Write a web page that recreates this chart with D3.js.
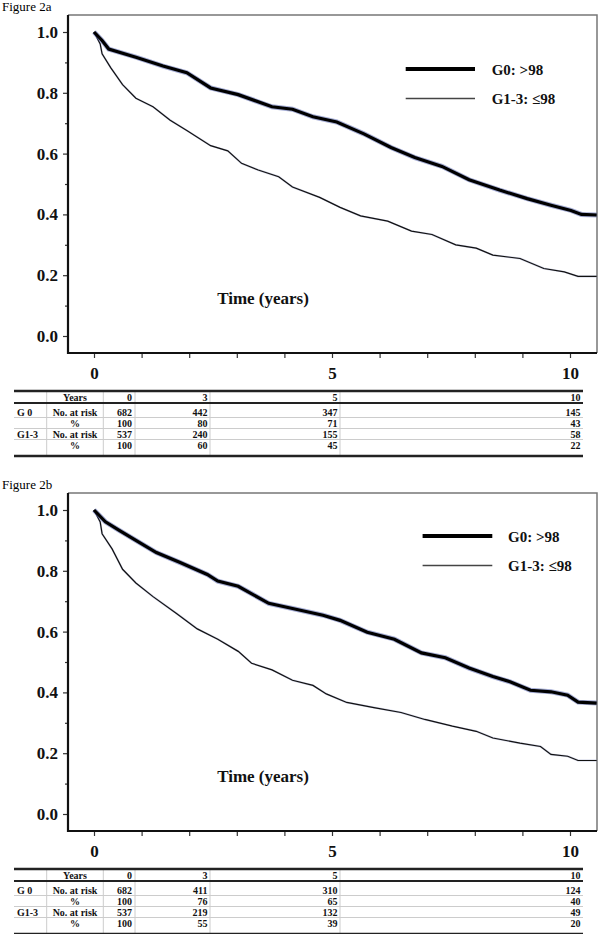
<!DOCTYPE html>
<html><head><meta charset="utf-8">
<script src="https://cdn.jsdelivr.net/npm/d3@7"></script>
<style>body{margin:0;background:#fff}svg{display:block}</style>
</head><body>
<svg id="c" width="600" height="934"></svg>
<script>
// ---------- data ----------
const seriesNames = ["G0: >98", "G1-3: \u226498"];
const yTicks = [0, 0.2, 0.4, 0.6, 0.8, 1.0];
const yMinorTicks = [0.1, 0.3, 0.5, 0.7, 0.9];
const xTicks = [0, 5, 10];
const xMinorTicks = [1, 2, 3, 4, 6, 7, 8, 9];

// Figure 2a
const timeA0 = [0, 0.17, 0.31, 0.88, 1.45, 1.95, 2.45, 3.03, 3.74, 4.17, 4.60, 5.10, 5.67, 6.24, 6.74, 7.31, 7.88, 8.52, 9.10, 9.60, 10.02, 10.24, 10.56];
const survA0 = [1.0, 0.972, 0.944, 0.917, 0.888, 0.866, 0.816, 0.794, 0.754, 0.746, 0.721, 0.704, 0.665, 0.620, 0.587, 0.558, 0.514, 0.480, 0.452, 0.430, 0.413, 0.400, 0.398];
const timeA1 = [0, 0.13, 0.17, 0.35, 0.60, 0.88, 1.24, 1.60, 1.95, 2.45, 2.81, 3.10, 3.45, 3.88, 4.17, 4.74, 5.17, 5.60, 6.17, 6.67, 7.10, 7.60, 8.03, 8.38, 8.95, 9.45, 9.88, 10.17, 10.56];
const survA1 = [1.0, 0.961, 0.928, 0.883, 0.827, 0.782, 0.754, 0.710, 0.676, 0.626, 0.609, 0.568, 0.546, 0.524, 0.490, 0.456, 0.423, 0.395, 0.378, 0.345, 0.334, 0.300, 0.289, 0.266, 0.255, 0.222, 0.211, 0.196, 0.196];

// Figure 2b
const timeB0 = [0, 0.24, 0.53, 0.88, 1.31, 1.81, 2.38, 2.60, 3.03, 3.67, 4.17, 4.81, 5.17, 5.74, 6.31, 6.88, 7.38, 7.88, 8.38, 8.74, 9.17, 9.60, 9.95, 10.17, 10.56];
const survB0 = [1.0, 0.961, 0.933, 0.900, 0.860, 0.827, 0.788, 0.766, 0.749, 0.693, 0.676, 0.654, 0.637, 0.598, 0.575, 0.530, 0.514, 0.480, 0.452, 0.435, 0.407, 0.402, 0.391, 0.368, 0.365];
const timeB1 = [0, 0.13, 0.17, 0.38, 0.60, 0.88, 1.24, 1.74, 2.17, 2.60, 3.03, 3.31, 3.74, 4.17, 4.60, 4.88, 5.31, 5.88, 6.45, 6.95, 7.53, 8.03, 8.38, 8.95, 9.38, 9.60, 9.95, 10.17, 10.56];
const survB1 = [1.0, 0.961, 0.922, 0.872, 0.805, 0.760, 0.715, 0.659, 0.609, 0.575, 0.535, 0.496, 0.474, 0.440, 0.423, 0.395, 0.367, 0.350, 0.334, 0.311, 0.289, 0.272, 0.250, 0.233, 0.222, 0.196, 0.190, 0.176, 0.176];

// at-risk tables
const tableYears = [0, 3, 5, 10];
const rowGroups = ["G 0", "", "G1-3", ""];
const rowKinds = ["No. at risk", "%", "No. at risk", "%"];
const atRiskA0 = [682, 442, 347, 145];
const pctA0 = [100, 80, 71, 43];
const atRiskA1 = [537, 240, 155, 58];
const pctA1 = [100, 60, 45, 22];
const atRiskB0 = [682, 411, 310, 124];
const pctB0 = [100, 76, 65, 40];
const atRiskB1 = [537, 219, 132, 49];
const pctB1 = [100, 55, 39, 20];

// ---------- drawing ----------
const serif = '"Liberation Serif","Times New Roman",serif';
const svg = d3.select("#c");

function zip(t, s) { return t.map((d, i) => ({ t: d, s: s[i] })); }

function drawPanel(dy, cfg) {
  const g = svg.append("g").attr("transform", `translate(0,${dy})`);
  const L = 68, R = 597, T = 15, B = 353;
  const x = d3.scaleLinear().domain([0, 10]).range([94, 570]);
  const y = d3.scaleLinear().domain([0, 1]).range([336, 32]);

  g.append("text").attr("x", 2).attr("y", 11)
    .attr("font-family", serif).attr("font-size", 13).text(cfg.title);

  // frame (top/right)
  g.append("path").attr("d", `M${L},${T}H${R}V${B}`)
    .attr("fill", "none").attr("stroke", "#777").attr("stroke-width", 1.5);

  // y axis
  const ya = g.append("g").attr("transform", `translate(${L},0)`)
    .call(d3.axisLeft(y).tickValues(yTicks).tickFormat(d3.format(".1f")).tickSize(5).tickPadding(5).tickSizeOuter(0));
  ya.select(".domain").remove();
  ya.selectAll("text").attr("font-family", serif).attr("font-size", 17).attr("font-weight", "bold").attr("fill", "#111");
  ya.selectAll("line").attr("stroke", "#333").attr("stroke-width", 1.2);
  const ym = g.append("g").attr("transform", `translate(${L},0)`)
    .call(d3.axisLeft(y).tickValues(yMinorTicks).tickFormat("").tickSize(3).tickSizeOuter(0));
  ym.select(".domain").remove();
  ym.selectAll("line").attr("stroke", "#333").attr("stroke-width", 1.2);

  // x axis
  const xa = g.append("g").attr("transform", `translate(0,${B})`)
    .call(d3.axisBottom(x).tickValues(xTicks).tickFormat(d3.format("d")).tickSize(5).tickPadding(9).tickSizeOuter(0));
  xa.select(".domain").remove();
  xa.selectAll("text").attr("font-family", serif).attr("font-size", 17).attr("font-weight", "bold").attr("fill", "#111");
  xa.selectAll("line").attr("stroke", "#333").attr("stroke-width", 1.2);
  const xm = g.append("g").attr("transform", `translate(0,${B})`)
    .call(d3.axisBottom(x).tickValues(xMinorTicks).tickFormat("").tickSize(5).tickSizeOuter(0));
  xm.select(".domain").remove();
  xm.selectAll("line").attr("stroke", "#333").attr("stroke-width", 1.2);

  // axis lines
  g.append("path").attr("d", `M${L},${T}V${B}H${R}`)
    .attr("fill", "none").attr("stroke", "#111").attr("stroke-width", 2.2);

  const line = d3.line().x(d => x(d.t)).y(d => y(d.s)).curve(d3.curveLinear);

  // G1-3 thin
  g.append("path").datum(zip(cfg.t1, cfg.s1)).attr("d", line)
    .attr("fill", "none").attr("stroke", "#6a74a8").attr("stroke-width", 2).attr("opacity", 0.35);
  g.append("path").datum(zip(cfg.t1, cfg.s1)).attr("d", line)
    .attr("fill", "none").attr("stroke", "#111").attr("stroke-width", 1.2);
  // G0 thick
  g.append("path").datum(zip(cfg.t0, cfg.s0)).attr("d", line)
    .attr("fill", "none").attr("stroke", "#5a68b0").attr("stroke-width", 5).attr("opacity", 0.55);
  g.append("path").datum(zip(cfg.t0, cfg.s0)).attr("d", line)
    .attr("fill", "none").attr("stroke", "#000").attr("stroke-width", 3.2);

  // legend
  const lg = cfg.legend;
  g.append("line").attr("x1", lg.x1).attr("x2", lg.x2).attr("y1", lg.y).attr("y2", lg.y)
    .attr("stroke", "#000").attr("stroke-width", 4.2);
  g.append("line").attr("x1", lg.x1).attr("x2", lg.x2).attr("y1", lg.y + lg.gap).attr("y2", lg.y + lg.gap)
    .attr("stroke", "#444").attr("stroke-width", 1.3);
  g.selectAll(".lt").data(seriesNames).join("text")
    .attr("x", lg.tx).attr("y", (d, i) => lg.y + i * lg.gap + 5.5)
    .attr("font-family", serif).attr("font-size", 15).attr("font-weight", "bold").attr("fill", "#111")
    .text(d => d);

  g.append("text").attr("x", 263).attr("y", 304).attr("text-anchor", "middle")
    .attr("font-family", serif).attr("font-size", 17).attr("font-weight", "bold").attr("fill", "#111")
    .text("Time (years)");

  // table
  const T0 = 391;
  const colSeps = [46.7, 103.3, 135, 210, 340];
  const valRight = [132, 207.5, 337.5, 580.5];
  const tl = 14, tr = 583;
  const tg = g.append("g");
  tg.selectAll(".vs").data(colSeps).join("line")
    .attr("x1", d => d).attr("x2", d => d).attr("y1", T0).attr("y2", T0 + 65)
    .attr("stroke", "#ccc").attr("stroke-width", 1);
  tg.selectAll(".hs").data([26.5, 37.5, 48.5]).join("line")
    .attr("x1", tl).attr("x2", tr).attr("y1", d => T0 + d).attr("y2", d => T0 + d)
    .attr("stroke", "#ccc").attr("stroke-width", 1);
  tg.selectAll(".hk").data([[0, 2.6], [12, 2.2], [65, 2.6]]).join("line")
    .attr("x1", tl).attr("x2", tr).attr("y1", d => T0 + d[0]).attr("y2", d => T0 + d[0])
    .attr("stroke", "#222").attr("stroke-width", d => d[1]);
  const tstyle = s => s.attr("font-family", serif).attr("font-size", 10).attr("font-weight", "bold").attr("fill", "#111");
  tg.append("text").attr("x", 75).attr("y", T0 + 9.5).attr("text-anchor", "middle").text("Years").call(tstyle);
  tg.selectAll(".hy").data(tableYears).join("text")
    .attr("x", (d, i) => valRight[i]).attr("y", T0 + 9.5).attr("text-anchor", "end").text(d => d).call(tstyle);
  const rows = [cfg.r0, cfg.p0, cfg.r1, cfg.p1];
  rows.forEach((vals, ri) => {
    const cy = T0 + 21 + ri * 11;
    tg.append("text").attr("x", 17).attr("y", cy + 3.5).text(rowGroups[ri]).call(tstyle);
    tg.append("text").attr("x", 75).attr("y", cy + 3.5).attr("text-anchor", "middle").text(rowKinds[ri]).call(tstyle);
    tg.selectAll(null).data(vals).join("text")
      .attr("x", (d, i) => valRight[i]).attr("y", cy + 3.5).attr("text-anchor", "end").text(d => d).call(tstyle);
  });
}

drawPanel(0, {
  title: "Figure 2a", t0: timeA0, s0: survA0, t1: timeA1, s1: survA1,
  legend: { x1: 405.7, x2: 475, y: 69, gap: 29.5, tx: 491.7 },
  r0: atRiskA0, p0: pctA0, r1: atRiskA1, p1: pctA1
});
drawPanel(478, {
  title: "Figure 2b", t0: timeB0, s0: survB0, t1: timeB1, s1: survB1,
  legend: { x1: 422.6, x2: 492.3, y: 58, gap: 29.5, tx: 508 },
  r0: atRiskB0, p0: pctB0, r1: atRiskB1, p1: pctB1
});
</script>
</body></html>
